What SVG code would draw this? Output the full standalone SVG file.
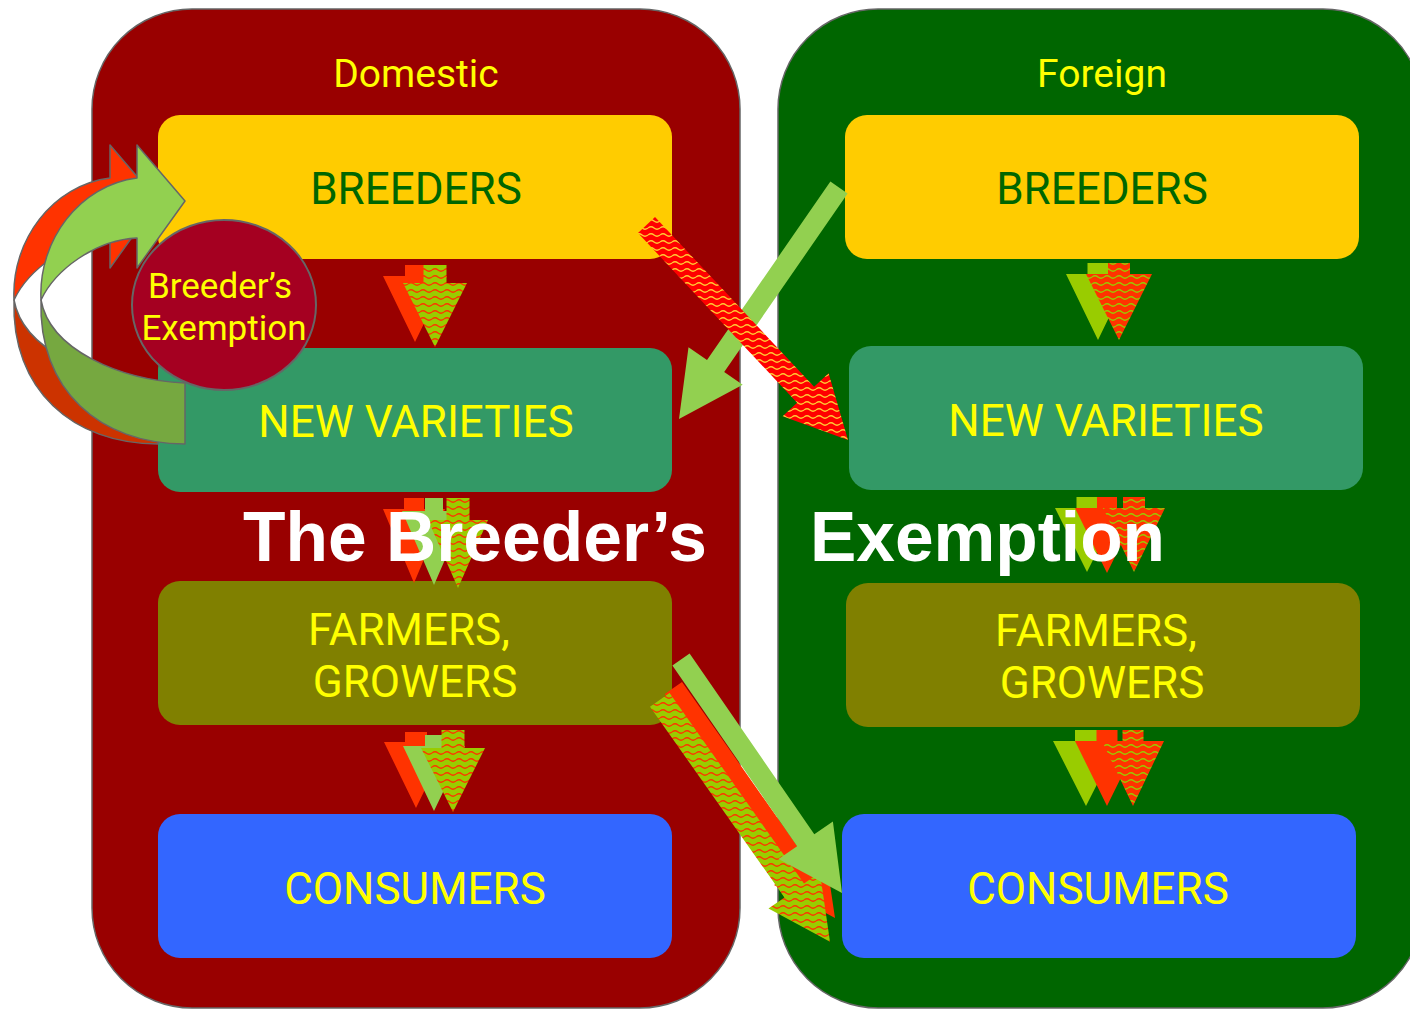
<svg xmlns="http://www.w3.org/2000/svg" width="1410" height="1010" viewBox="0 0 1410 1010">
<defs>
<pattern id="wavyG" width="12" height="7" patternUnits="userSpaceOnUse">
<rect width="12" height="7" fill="#99CC00"/>
<path d="M0,4 Q3,1.5 6,4 T12,4" fill="none" stroke="#FF3300" stroke-width="1.3"/>
</pattern>
<pattern id="wavyR" width="12" height="7" patternUnits="userSpaceOnUse">
<rect width="12" height="7" fill="#FF3300"/>
<path d="M0,4 Q3,1.5 6,4 T12,4" fill="none" stroke="#99CC00" stroke-width="1.3"/>
</pattern>
<pattern id="wavyRY" width="12" height="7" patternUnits="userSpaceOnUse">
<rect width="12" height="7" fill="#FF0000"/>
<path d="M0,4 Q3,1.5 6,4 T12,4" fill="none" stroke="#FFCC33" stroke-width="1.3"/>
</pattern>
</defs>
<style>
.panel{stroke:#666666;stroke-width:1.5}
.box{stroke:none}
.lbl{font-family:Roboto,"Liberation Sans",sans-serif;font-size:44px;text-anchor:middle;fill:#FFFF00}
.hdr{font-family:Roboto,"Liberation Sans",sans-serif;font-size:39px;text-anchor:middle;fill:#FFFF00}
.circ{font-family:Roboto,"Liberation Sans",sans-serif;font-size:35px;text-anchor:middle;fill:#FFFF00}
.title{font-family:"Liberation Sans",Arial,sans-serif;font-size:71px;font-weight:bold;fill:#FFFFFF}
.cv{stroke:#666666;stroke-width:1.5;stroke-linejoin:round}
</style>

<g id="domestic">
<rect class="panel" x="92" y="9" width="648" height="999" rx="100" ry="100" fill="#990000"/>
<text class="hdr" x="416" y="87">Domestic</text>
</g>
<g id="foreign">
<rect class="panel" x="778" y="9" width="645" height="999" rx="100" ry="100" fill="#006600"/>
<text class="hdr" x="1102" y="87">Foreign</text>
</g>

<g id="d-breeders">
<rect class="box" x="158" y="115" width="514" height="144" rx="22" fill="#FFCC00"/>
<text class="lbl" x="416" y="204" fill="#006600" style="fill:#006600">BREEDERS</text>
</g>
<g id="d-varieties">
<rect class="box" x="158" y="348" width="514" height="144" rx="22" fill="#339966"/>
<text class="lbl" x="416" y="437">NEW VARIETIES</text>
</g>
<g id="d-farmers">
<rect class="box" x="158" y="581" width="514" height="144" rx="22" fill="#808000"/>
<text class="lbl" x="409" y="645">FARMERS,</text>
<text class="lbl" x="415" y="697">GROWERS</text>
</g>
<g id="d-consumers">
<rect class="box" x="158" y="814" width="514" height="144" rx="22" fill="#3366FF"/>
<text class="lbl" x="415" y="904">CONSUMERS</text>
</g>

<g id="f-breeders">
<rect class="box" x="845" y="115" width="514" height="144" rx="22" fill="#FFCC00"/>
<text class="lbl" x="1102" y="204" style="fill:#006600">BREEDERS</text>
</g>
<g id="f-varieties">
<rect class="box" x="849" y="346" width="514" height="144" rx="22" fill="#339966"/>
<text class="lbl" x="1106" y="436">NEW VARIETIES</text>
</g>
<g id="f-farmers">
<rect class="box" x="846" y="583" width="514" height="144" rx="22" fill="#808000"/>
<text class="lbl" x="1096" y="646">FARMERS,</text>
<text class="lbl" x="1102" y="698">GROWERS</text>
</g>
<g id="f-consumers">
<rect class="box" x="842" y="814" width="514" height="144" rx="22" fill="#3366FF"/>
<text class="lbl" x="1098" y="904">CONSUMERS</text>
</g>

<g id="connectors">
<!-- domestic down arrows -->
<polygon fill="#FF3300" points="405,265 425,265 425,276 447,276 415,342 383,276 405,276"/>
<polygon fill="url(#wavyG)" points="423.5,265 446.5,265 446.5,283 467,283 435,347 403,283 423.5,283"/>

<polygon fill="#FF3300" points="404,498 424,498 424,509 445,509 414,583 383,509 404,509"/>
<polygon fill="#92D050" points="425,498 443,498 443,511 466,511 434,585 402,511 425,511"/>
<polygon fill="url(#wavyG)" points="446.5,498 469.5,498 469.5,520 488,520 458,588 428,520 446.5,520"/>

<polygon fill="#FF3300" points="405,732 427,732 427,742 448,742 416,808 384,742 405,742"/>
<polygon fill="#92D050" points="425,735 443,735 443,746 465,746 434,811 403,746 425,746"/>
<polygon fill="url(#wavyG)" points="441.5,730 464.5,730 464.5,748 485,748 453,812 421,748 441.5,748"/>

<!-- foreign down arrows -->
<polygon fill="#99CC00" points="1087.5,263 1108.5,263 1108.5,274 1130,274 1098,340 1066,274 1087.5,274"/>
<polygon fill="url(#wavyR)" points="1108,263 1130,263 1130,274 1152,274 1119,340 1086,274 1108,274"/>

<polygon fill="#99CC00" points="1076.5,497 1097.5,497 1097.5,508 1119,508 1087,572 1055,508 1076.5,508"/>
<polygon fill="#FF3300" points="1097,497 1117,497 1117,508 1139,508 1107,573 1075,508 1097,508"/>
<polygon fill="url(#wavyR)" points="1123,497 1145,497 1145,508 1165,508 1134,572 1103,508 1123,508"/>

<polygon fill="#99CC00" points="1075,730 1097,730 1097,741 1119,741 1086,806 1053,741 1075,741"/>
<polygon fill="#FF3300" points="1096.5,730 1117.5,730 1117.5,741 1139,741 1107,806 1075,741 1096.5,741"/>
<polygon fill="url(#wavyR)" points="1122.5,730 1143.5,730 1143.5,741 1164,741 1133,806 1102,741 1122.5,741"/>

<!-- breeder's exemption loop arrows -->
<g id="loop-red" transform="translate(-27,0)">
<path class="cv" fill="#CC3300" d="M41,300 C38,390 100,444 185,444 L185,383 C120,380 50,350 41,300 Z"/>
<path class="cv" fill="#FF3300" d="M41,300 C38,240 80,185 137,178 L137,145 L185,201 L137,268 L137,238 C95,240 55,270 41,300 Z"/>
</g>
<g id="loop-green">
<path class="cv" fill="#76A840" d="M41,300 C38,390 100,444 185,444 L185,383 C120,380 50,350 41,300 Z"/>
<path class="cv" fill="#92D050" d="M41,300 C38,240 80,185 137,178 L137,145 L185,201 L137,268 L137,238 C95,240 55,270 41,300 Z"/>
</g>

<!-- cross-border diagonal arrows -->
<polygon fill="#92D050" points="830.4,181.5 707.0,360.0 688.5,347.3 679,419 742.7,384.7 724.2,372.0 847.6,193.5"/>
<polygon fill="url(#wavyRY)" points="638.0,233.0 797.1,402.7 782.6,416.2 848,440 828.6,373.2 814.1,386.7 655.0,217.0"/>

<polygon fill="#FF3300" points="664.8,694.0 790.8,873.3 774.0,885.1 835,918 824.8,849.5 808.0,861.3 682.0,682.0"/>
<polygon fill="url(#wavyG)" points="650.0,706.7 784.4,897.4 768.5,908.5 830,941.7 819.9,872.5 804.0,883.6 669.6,692.9"/>
<polygon fill="#92D050" points="672.4,665.5 797.1,846.3 778.5,859.0 842,893 832.9,821.6 814.3,834.3 689.6,653.5"/>
</g>

<g id="exemption-circle">
<ellipse cx="224" cy="305" rx="92" ry="85" fill="#A50021" stroke="#666666" stroke-width="2"/>
<text class="circ" x="220" y="298">Breeder’s</text>
<text class="circ" x="224" y="340">Exemption</text>
</g>

<g id="title">
<text class="title" x="243" y="561" textLength="464" lengthAdjust="spacingAndGlyphs">The Breeder’s</text>
<text class="title" x="810" y="561" textLength="355" lengthAdjust="spacingAndGlyphs">Exemption</text>
</g>
</svg>
